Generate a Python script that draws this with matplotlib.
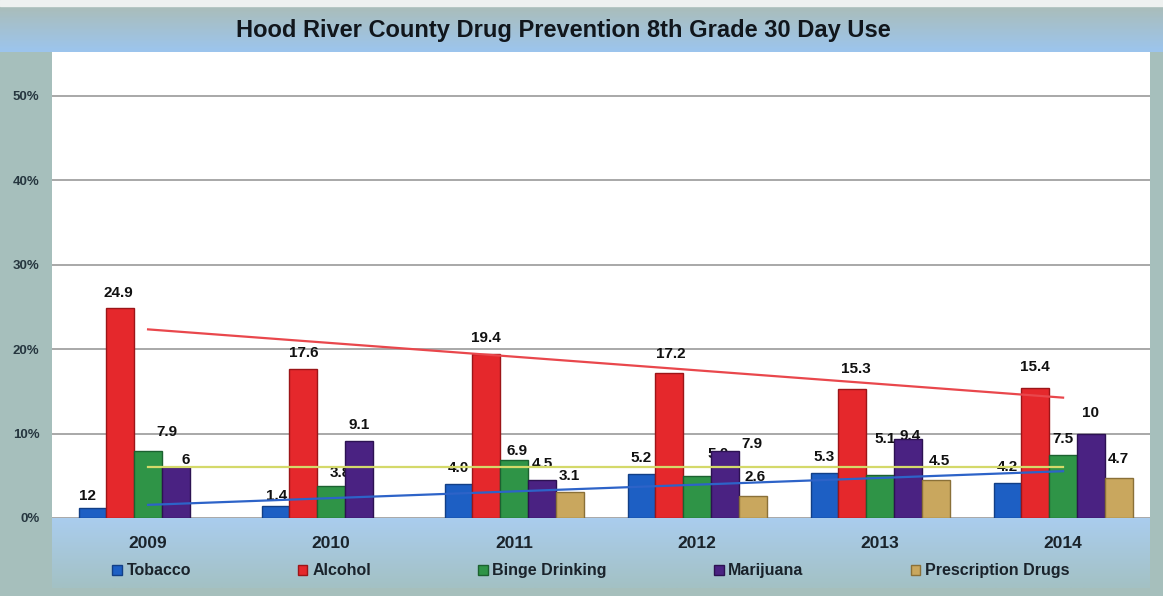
#!/usr/bin/env python3
"""Hood River County 8th grade 30-day use, grouped bars with linear trend lines."""

import matplotlib.pyplot as plt
import numpy as np
from matplotlib.colors import to_rgb
from matplotlib.patches import Patch

plt.rcParams["font.family"] = ["Liberation Sans", "DejaVu Sans"]
plt.rcParams["font.weight"] = "bold"

years = ["2009", "2010", "2011", "2012", "2013", "2014"]
series_names = ["Tobacco", "Alcohol", "Binge Drinking", "Marijuana", "Prescription Drugs"]

tobacco = [1.2, 1.4, 4.0, 5.2, 5.3, 4.2]
alcohol = [24.9, 17.6, 19.4, 17.2, 15.3, 15.4]
binge = [7.9, 3.8, 6.9, 5.0, 5.1, 7.5]
marijuana = [6.0, 9.1, 4.5, 7.9, 9.4, 10.0]
prescription = [np.nan, np.nan, 3.1, 2.6, 4.5, 4.7]

tobacco_labels = ["12", "1.4", "4.0", "5.2", "5.3", "4.2"]
alcohol_labels = ["24.9", "17.6", "19.4", "17.2", "15.3", "15.4"]
binge_labels = ["7.9", "3.8", "6.9", "5.0", "5.1", "7.5"]
marijuana_labels = ["6", "9.1", "4.5", "7.9", "9.4", "10"]
prescription_labels = ["", "", "3.1", "2.6", "4.5", "4.7"]

y_ticks = [0, 10, 20, 30, 40, 50]

COLORS = ["#1d5fc4", "#e5282c", "#2f9447", "#4a2282", "#c9a75e"]
EDGES = ["#123f86", "#9c1518", "#1c6130", "#2c1252", "#8a7038"]
TREND_COLORS = {0: "#2d63c8", 1: "#e9474c", 2: "#d4d96a"}

# label nudges in pixels (dx right, dy up), the scanned chart is not regular
label_nudge = {
    (0, 0): (-5, -4), (0, 1): (1, -6),
    (1, 0): (-2, -1), (1, 3): (2, 3), (1, 4): (4, 4), (1, 5): (0, 5),
    (2, 0): (19, 3), (2, 1): (9, -3), (2, 2): (3, -7), (2, 3): (21, 6), (2, 4): (5, 20),
    (3, 0): (10, -9), (3, 3): (27, -9), (3, 4): (2, -13), (3, 5): (0, 5),
    (4, 3): (2, 3), (4, 4): (4, 3), (4, 5): (0, 3),
}


def gradient(ax, extent, top, bottom):
    c0, c1 = np.array(to_rgb(top)), np.array(to_rgb(bottom))
    t = np.linspace(0, 1, 64)[:, None, None]
    img = c0 * (1 - t) + c1 * t
    img = np.repeat(img, 2, axis=1)
    ax.imshow(img, extent=extent, aspect="auto", interpolation="bilinear", zorder=1)


def main() -> None:
    values = [tobacco, alcohol, binge, marijuana, prescription]
    labels = [tobacco_labels, alcohol_labels, binge_labels, marijuana_labels, prescription_labels]

    fig = plt.figure(figsize=(11.63, 5.96), dpi=100, facecolor="#a6bfbc")

    # background frame: title strip and light blue band under the plot
    bg = fig.add_axes([0, 0, 1, 1], zorder=0)
    bg.set_xlim(0, 1163)
    bg.set_ylim(596, 0)
    bg.axis("off")
    bg.axhspan(0, 6, color="#eef1f0", zorder=2)
    gradient(bg, (0, 1163, 52, 6), "#aabdb9", "#9cc5ee")
    gradient(bg, (52, 1150, 588, 518), "#aacdee", "#a3c1c4")

    ax = fig.add_axes([52 / 1163, 78 / 596, 1098 / 1163, 466 / 596], zorder=1)
    ax.set_facecolor("white")
    x = np.arange(len(years))
    width = 0.152

    for k, (vals, name) in enumerate(zip(values, series_names)):
        pos = x + (k - 2) * width
        ax.bar(pos, vals, width, color=COLORS[k], edgecolor=EDGES[k], linewidth=1.0, zorder=3, label=name)
        for i, (v, text) in enumerate(zip(vals, labels[k])):
            if not text:
                continue
            dx, dy = label_nudge.get((k, i), (0, 0))
            ax.annotate(
                text,
                (pos[i], v),
                xytext=(dx * 0.72, (9 + dy) * 0.72),
                textcoords="offset points",
                ha="center",
                va="bottom",
                fontsize=11,
                fontweight="bold",
                color="#111111",
                zorder=2.5,
            )

    # linear trend lines for tobacco, alcohol and binge drinking
    for k, color in TREND_COLORS.items():
        coef = np.polyfit(x, values[k], 1)
        ends = np.array([x[0], x[-1]])
        ax.plot(ends, np.polyval(coef, ends), color=color, linewidth=1.6, zorder=4)

    ax.set_xlim(-0.525, 5.475)
    ax.set_ylim(0, 55.2)
    ax.set_yticks(y_ticks)
    ax.set_yticklabels([f"{t}%" for t in y_ticks])
    ax.set_xticks(x)
    ax.set_xticklabels(years)
    ax.grid(axis="y", color="#a8a8a8", linewidth=1.4, zorder=0)
    ax.set_axisbelow(True)
    for side in ax.spines.values():
        side.set_visible(False)
    ax.tick_params(axis="both", length=0)
    ax.tick_params(axis="x", pad=13, labelsize=12.5, labelcolor="#1a232b")
    ax.tick_params(axis="y", pad=9, labelsize=9.5, labelcolor="#26363f")
    for t in ax.get_xticklabels() + ax.get_yticklabels():
        t.set_fontweight("bold")

    fig.text(
        0.484,
        0.948,
        "Hood River County Drug Prevention 8th Grade 30 Day Use",
        ha="center",
        va="center",
        fontsize=17,
        fontweight="bold",
        color="#11161c",
    )

    handles = [Patch(facecolor=c, edgecolor=e) for c, e in zip(COLORS, EDGES)]
    leg = fig.legend(
        handles,
        series_names,
        loc="center",
        bbox_to_anchor=(0.508, 0.042),
        ncol=5,
        frameon=False,
        handlelength=0.6,
        handleheight=0.6,
        handletextpad=0.3,
        columnspacing=6.7,
        prop={"weight": "bold", "size": 11.5},
    )
    for t in leg.get_texts():
        t.set_color("#1a232b")

    fig.savefig("out.png", dpi=100, facecolor=fig.get_facecolor())


if __name__ == "__main__":
    main()
